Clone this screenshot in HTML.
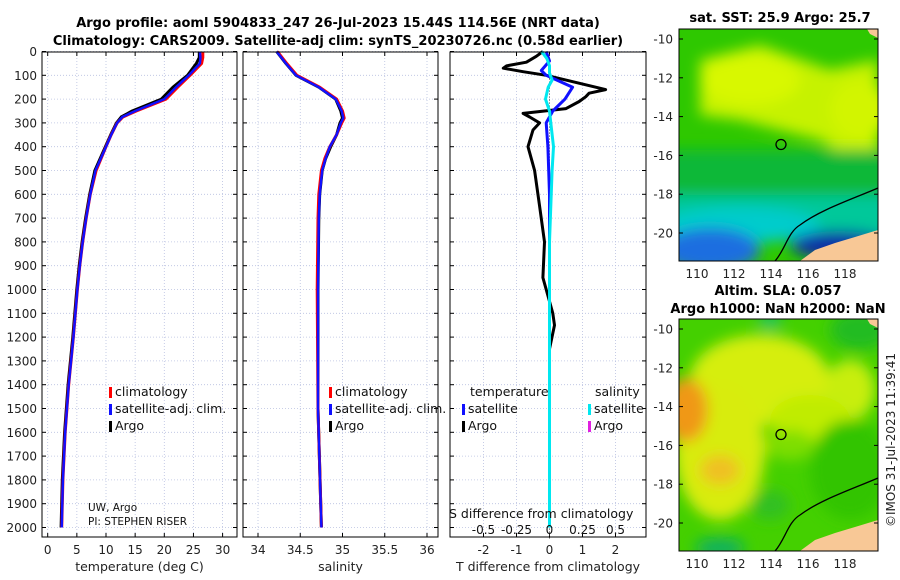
<!DOCTYPE html>
<html><head><meta charset="utf-8">
<style>
body{margin:0;background:#fff;}
svg{display:block;font-family:"DejaVu Sans","Liberation Sans",sans-serif;}
</style></head>
<body>
<svg id="fig" width="900" height="580" viewBox="0 0 900 580" xmlns="http://www.w3.org/2000/svg">
<defs>
<filter id="bl" x="-20%" y="-20%" width="140%" height="140%"><feGaussianBlur stdDeviation="7"/></filter>
<clipPath id="c1"><rect x="679" y="29" width="199" height="232"/></clipPath>
<clipPath id="c2"><rect x="679" y="319" width="199" height="232"/></clipPath>
</defs>
<text x="338" y="27" text-anchor="middle" font-size="13" font-weight="bold">Argo profile: aoml 5904833_247 26-Jul-2023 15.44S 114.56E (NRT data)</text>
<text x="338" y="45" text-anchor="middle" font-size="13" font-weight="bold">Climatology: CARS2009. Satellite-adj clim: synTS_20230726.nc (0.58d earlier)</text>

<g>
<text x="780" y="22" text-anchor="middle" font-size="13" font-weight="bold">sat. SST: 25.9 Argo: 25.7</text>
<g clip-path="url(#c1)">
<rect x="679" y="29" width="199" height="232" fill="#2ec800"/>
<g filter="url(#bl)">
<polygon points="700,60 760,45 830,70 878,60 878,150 850,160 820,140 780,130 740,120 700,115" fill="#c6f200"/>
<ellipse cx="750" cy="80" rx="50" ry="25" fill="#d8f800"/>
<ellipse cx="860" cy="110" rx="30" ry="30" fill="#d2f500"/>
<rect x="660" y="150" width="240" height="60" fill="#10b838"/>
<rect x="660" y="195" width="240" height="45" fill="#00c89a"/>
<ellipse cx="740" cy="225" rx="80" ry="18" fill="#00cccc"/>
<ellipse cx="710" cy="250" rx="50" ry="22" fill="#1a6ee0"/>
<ellipse cx="840" cy="245" rx="50" ry="14" fill="#0a2aa8"/>
</g>
<polygon points="800,261 815,250 835,243 855,237 878,230 878,261" fill="#f8c896"/>
<polygon points="867,29 878,29 878,38 870,34" fill="#f8c896"/>
<path d="M775,261 C785,250 788,232 800,225 C820,210 850,200 878,188" fill="none" stroke="#000" stroke-width="1.3"/>
</g>
<rect x="679" y="29" width="199" height="232" fill="none" stroke="#000" stroke-width="1"/>
<circle cx="781" cy="144.5" r="5" fill="none" stroke="#000" stroke-width="1.3"/>
<g id="tm" font-size="12" fill="#222"></g>
</g>

<g>
<text x="778" y="295" text-anchor="middle" font-size="13" font-weight="bold">Altim. SLA: 0.057</text>
<text x="778" y="313" text-anchor="middle" font-size="13" font-weight="bold">Argo h1000: NaN h2000: NaN</text>
<g clip-path="url(#c2)">
<rect x="679" y="319" width="199" height="232" fill="#44d000"/>
<g filter="url(#bl)">
<ellipse cx="760" cy="380" rx="70" ry="45" fill="#d6ee10"/>
<ellipse cx="720" cy="450" rx="45" ry="70" fill="#d8ec10"/>
<ellipse cx="850" cy="390" rx="25" ry="30" fill="#c8ee10"/>
<ellipse cx="810" cy="420" rx="40" ry="25" fill="#c0ec00"/>
<ellipse cx="686" cy="410" rx="22" ry="32" fill="#f09818"/>
<ellipse cx="720" cy="470" rx="20" ry="15" fill="#f0c020"/>
<ellipse cx="790" cy="445" rx="25" ry="15" fill="#7ede00"/>
<ellipse cx="850" cy="470" rx="40" ry="50" fill="#30c400"/>
<ellipse cx="720" cy="548" rx="25" ry="10" fill="#10b060"/>
<ellipse cx="770" cy="505" rx="20" ry="15" fill="#30c020"/>
<ellipse cx="770" cy="322" rx="12" ry="6" fill="#10c080"/>
<ellipse cx="860" cy="330" rx="30" ry="20" fill="#20bc20"/>
</g>
<polygon points="800,551 815,540 835,533 855,527 878,520 878,551" fill="#f8c896"/>
<polygon points="867,319 878,319 878,328 870,324" fill="#f8c896"/>
<path d="M775,551 C785,540 788,522 800,515 C820,500 850,490 878,478" fill="none" stroke="#000" stroke-width="1.3"/>
</g>
<rect x="679" y="319" width="199" height="232" fill="none" stroke="#000" stroke-width="1"/>
<circle cx="781" cy="434.5" r="5" fill="none" stroke="#000" stroke-width="1.3"/>
<g id="bm" font-size="12" fill="#222"></g>
</g>
<text transform="translate(895,440) rotate(-90)" text-anchor="middle" font-size="12" fill="#222">©IMOS 31-Jul-2023 11:39:41</text>

<g id="plots"></g>
</svg>
<script>
// ---- data ----
const depthTicks = [0,100,200,300,400,500,600,700,800,900,1000,1100,1200,1300,1400,1500,1600,1700,1800,1900,2000];
const tempTicks = [0,5,10,15,20,25,30];
const salTicks = [34,34.5,35,35.5,36];
const salTickLabels = ["34","34.5","35","35.5","36"];
const diffTTicks = [-2,-1,0,1,2];
const diffSTickLabels = ["-0.5","-0.25","0","0.25","0.5"];
const diffSTicks = [-0.5,-0.25,0,0.25,0.5];

const depthT = [0,25,50,100,150,200,250,275,300,350,400,500,600,700,800,900,1000,1200,1400,1600,1800,2000];
const argoTemp = [26,26,25.5,24,21.5,19.5,14.5,12.6,11.8,10.8,9.9,8.1,7.2,6.5,5.9,5.4,5.0,4.3,3.5,2.9,2.5,2.3];
const climTemp = [26.6,26.6,26.4,24.4,22.3,20.3,15.2,12.9,11.9,10.9,10.0,8.3,7.3,6.6,6.0,5.5,5.1,4.4,3.6,3.0,2.6,2.4];
const satTemp  = [26.1,26.2,26.1,24.2,22.0,20.0,15.0,12.8,11.9,10.9,10.0,8.2,7.3,6.6,6.0,5.5,5.1,4.4,3.6,3.0,2.6,2.4];

const depthS = [0,50,100,150,200,250,280,300,350,400,450,500,600,700,1000,1500,2000];
const argoSal = [34.22,34.33,34.45,34.72,34.92,34.98,35.0,34.97,34.93,34.86,34.80,34.76,34.73,34.72,34.71,34.71,34.75];
const climSal = [34.23,34.34,34.46,34.73,34.93,35.0,35.02,34.99,34.93,34.85,34.79,34.75,34.72,34.71,34.70,34.71,34.75];
const satSal  = [34.22,34.33,34.45,34.72,34.92,34.99,35.01,34.98,34.93,34.85,34.80,34.76,34.73,34.72,34.71,34.71,34.75];

const depthDT = [0,20,45,60,70,85,100,130,160,175,190,210,240,260,275,300,330,400,500,650,800,950,1050,1100,1150,1250,1500,2000];
const argoDT = [-0.2,-0.4,-0.7,-1.3,-1.4,-0.8,-0.1,0.8,1.7,1.2,1.1,0.9,0.5,-0.8,-0.6,-0.3,-0.5,-0.65,-0.45,-0.3,-0.15,-0.2,0.0,0.1,0.15,0.0,0.0,0.0];
const depthSatDT = [0,40,80,100,150,200,250,300,400,600,1000,2000];
const satDT = [-0.1,0.0,-0.25,-0.1,0.7,0.47,0.1,-0.1,-0.05,0,0,0];
const depthDS = [0,30,60,90,120,150,200,250,300,400,500,800,1200,2000];
const satDS = [-0.06,-0.02,0.0,0.0,0.02,-0.01,-0.03,0.0,0.01,0.03,0.02,0.0,0.0,0.0];

const latTicks = [-10,-12,-14,-16,-18,-20];
const lonTicks = [110,112,114,116,118];

// ---- helpers ----
const NS="http://www.w3.org/2000/svg";
const plots=document.getElementById('plots');
function mk(tag,attrs,parent){const e=document.createElementNS(NS,tag);for(const k in attrs)e.setAttribute(k,attrs[k]);(parent||plots).appendChild(e);return e;}
const yTop=52, yBot=537;
function yD(d){return 51.5+d*0.2380;}
const x1=v=>47.7+v*5.83;
const x2=v=>258+(v-34)*84.5;
const x3=v=>549.5+v*33;
const x3s=v=>549.5+v*132;

const panels=[{l:42,r:237,ticks:tempTicks,f:x1,labels:tempTicks.map(String),title:"temperature (deg C)"},
{l:243,r:438,ticks:salTicks,f:x2,labels:salTickLabels,title:"salinity"},
{l:450,r:646,ticks:diffTTicks,f:x3,labels:diffTTicks.map(String),title:"T difference from climatology"}];

panels.forEach((p,i)=>{
  const g=mk('g',{});
  
  
  depthTicks.forEach(d=>{
    const ln=mk('line',{x1:p.l,x2:p.r,y1:yD(d),y2:yD(d),stroke:'#b8c0e0','stroke-width':0.8,'stroke-dasharray':'1,2'},g);
    
    
    mk('line',{x1:p.l,x2:p.l+4,y1:yD(d),y2:yD(d),stroke:'#000'},g);
    mk('line',{x1:p.r-4,x2:p.r,y1:yD(d),y2:yD(d),stroke:'#000'},g);
  });
  p.ticks.forEach((t,j)=>{
    const X=p.f(t);
    const ln=mk('line',{x1:X,x2:X,y1:yTop,y2:yBot,stroke:'#b8c0e0','stroke-width':0.8,'stroke-dasharray':'1,2'},g);
    
    
    mk('line',{x1:X,x2:X,y1:yBot-4,y2:yBot,stroke:'#000'},g);
    mk('line',{x1:X,x2:X,y1:yTop,y2:yTop+4,stroke:'#000'},g);
    const tx=mk('text',{x:X,y:554,'text-anchor':'middle','font-size':12,fill:'#222'},g);
    tx.textContent=p.labels[j];
    
    
  });
  const tt=mk('text',{x:(p.l+p.r)/2,y:571,'text-anchor':'middle','font-size':12.5,fill:'#222'},g);
  tt.textContent=p.title;
  
  
  p.g=g;
});
depthTicks.forEach(d=>{
  const t=mk('text',{x:37,y:yD(d)+4.5,'text-anchor':'end','font-size':12,fill:'#222'});
  t.textContent=String(d);
  
  
});

function line(g,xs,ds,fx,color,w,name,dash){
  const pts=xs.map((v,i)=>fx(v).toFixed(1)+','+yD(ds[i]).toFixed(1)).join(' ');
  const e=mk('polyline',{points:pts,fill:'none',stroke:color,'stroke-width':w,'stroke-linejoin':'round'},g);
  if(dash)e.setAttribute('stroke-dasharray',dash);
  
  
}
const P=panels;
line(P[0].g,argoTemp,depthT,x1,'#000',3,'argo-temperature-line');
line(P[0].g,climTemp,depthT,x1,'#f00',3,'climatology-temperature-line');
line(P[0].g,satTemp,depthT,x1,'#1010ff',2.5,'satellite-temperature-line');
line(P[1].g,argoSal,depthS,x2,'#000',3,'argo-salinity-line');
line(P[1].g,climSal,depthS,x2,'#f00',3,'climatology-salinity-line');
line(P[1].g,satSal,depthS,x2,'#1010ff',2.5,'satellite-salinity-line');
line(P[2].g,[0,0],[0,2050],x3,'#555',1,'zero-reference-line','1,2');
line(P[2].g,argoDT,depthDT,x3,'#000',3,'argo-temperature-difference-line');
line(P[2].g,satDT,depthSatDT,x3,'#1010ff',3,'satellite-temperature-difference-line');
line(P[2].g,satDS,depthDS,x3s,'#00e8f0',3,'satellite-salinity-difference-line');

P.forEach(p=>{mk('rect',{x:p.l,y:yTop,width:p.r-p.l,height:yBot-yTop,fill:'none',stroke:'#000','stroke-width':1},p.g);});

function legend(g,x,y,color,label){
  const m=mk('rect',{x:x,y:y-9,width:3,height:11,fill:color},g);
  
  
  const t=mk('text',{x:x+6,y:y,'font-size':12.5,fill:'#111'},g);
  t.textContent=label;
  
  
}
legend(P[0].g,109,396,'#f00','climatology');
legend(P[0].g,109,413,'#1010ff','satellite-adj. clim.');
legend(P[0].g,109,430,'#000','Argo');
legend(P[1].g,329,396,'#f00','climatology');
legend(P[1].g,329,413,'#1010ff','satellite-adj. clim.');
legend(P[1].g,329,430,'#000','Argo');
let tl=mk('text',{x:470,y:396,'font-size':12.5,fill:'#111'},P[2].g);tl.textContent='temperature';


tl=mk('text',{x:595,y:396,'font-size':12.5,fill:'#111'},P[2].g);tl.textContent='salinity';


legend(P[2].g,462,413,'#1010ff','satellite');
legend(P[2].g,462,430,'#000','Argo');
legend(P[2].g,588,413,'#00e8f0','satellite');
legend(P[2].g,588,430,'#e020e0','Argo');

let t=mk('text',{x:88,y:511,'font-size':10.5,fill:'#111'},P[0].g);t.textContent='UW, Argo';


t=mk('text',{x:88,y:525,'font-size':10.5,fill:'#111'},P[0].g);t.textContent='PI: STEPHEN RISER';


t=mk('text',{x:449,y:518,'font-size':12.5,fill:'#111'},P[2].g);t.textContent='S difference from climatology';


diffSTicks.forEach((v,j)=>{
  const s=mk('text',{x:x3s(v),y:534,'text-anchor':'middle','font-size':12,fill:'#111'},P[2].g);
  s.textContent=diffSTickLabels[j];
  
  
});

function mapTicks(gid,top,lat10y){
  const g=document.getElementById(gid);
  latTicks.forEach(v=>{
    const y=lat10y+(-10-v)*19.4;
    const e=mk('text',{x:673,y:y+4.5,'text-anchor':'end'},g);e.textContent=String(v);
    
    
    mk('line',{x1:679,x2:683,y1:y,y2:y,stroke:'#000'},g);
    mk('line',{x1:874,x2:878,y1:y,y2:y,stroke:'#000'},g);
  });
  lonTicks.forEach(v=>{
    const x=697+(v-110)*18.5;
    const e=mk('text',{x:x,y:top+232+17,'text-anchor':'middle'},g);e.textContent=String(v);
    
    
  });
}
mapTicks('tm',29,39);
mapTicks('bm',319,329);
</script>
</body></html>
